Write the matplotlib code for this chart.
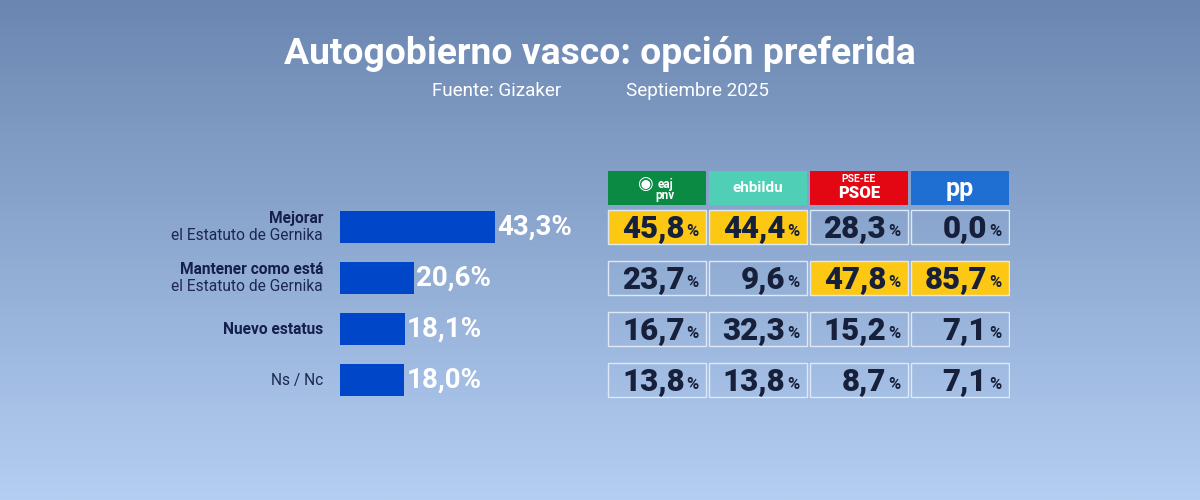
import matplotlib.pyplot as plt
import numpy as np
from matplotlib.patches import Rectangle

plt.rcParams['font.family'] = ['Roboto', 'DejaVu Sans']

# data
opciones_bold = ['Mejorar', 'Mantener como está', 'Nuevo estatus', '']
opciones_sub = ['el Estatuto de Gernika', 'el Estatuto de Gernika', '', 'Ns / Nc']
total = [43.3, 20.6, 18.1, 18.0]

partidos = ['PNV', 'EH Bildu', 'PSE-EE', 'PP']
partido_colores = ['#0b8a43', '#4fd0b6', '#e30613', '#1f6fd2']
pnv = [45.8, 23.7, 16.7, 13.8]
bildu = [44.4, 9.6, 32.3, 13.8]
psoe = [28.3, 47.8, 15.2, 8.7]
pp = [0.0, 85.7, 7.1, 7.1]

W, H = 1200, 500
fig = plt.figure(figsize=(12, 5), dpi=100)

# background gradient
bg = fig.add_axes([0, 0, 1, 1])
grad = np.linspace(0, 1, 256).reshape(-1, 1)
top = np.array([0x6b, 0x87, 0xb1]) / 255
bot = np.array([0xb4, 0xce, 0xf3]) / 255
img = top + (bot - top) * grad[..., None]
bg.imshow(img, aspect='auto', extent=[0, 1, 0, 1])
bg.axis('off')

def px_axes(x0, y0, x1, y1):
    return fig.add_axes([x0 / W, 1 - y1 / H, (x1 - x0) / W, (y1 - y0) / H])

# titles
canvas = px_axes(0, 0, W, H)
canvas.set_xlim(0, W)
canvas.set_ylim(H, 0)
canvas.axis('off')
canvas.text(600, 54, 'Autogobierno vasco: opción preferida', ha='center', va='center',
            fontsize=26.8, fontweight='bold', color='white')
canvas.text(497, 91, 'Fuente: Gizaker', ha='center', va='center', fontsize=13.6, color='white')
canvas.text(697, 91, 'Septiembre 2025', ha='center', va='center', fontsize=13.6, color='white')

# bars
scale = 3.58  # px per percent
ax = px_axes(340, 201.5, 600, 405.5)
ax.set_xlim(0, 260 / scale)
ax.set_ylim(3.5, -0.5)
ax.axis('off')
ypos = np.arange(len(total))
ax.barh(ypos, total, height=0.63, color='#0046c8')
for i, v in enumerate(total):
    ax.text(v + 0.5, i, f'{v:.1f}%'.replace('.', ','), va='center', ha='left',
            fontsize=20, fontweight='bold', color='white', clip_on=False)
    lx = -17 / scale
    b, s = opciones_bold[i], opciones_sub[i]
    if b and s:
        ax.text(lx, i - 0.17, b, ha='right', va='center', fontsize=11.2,
                fontweight='bold', color='#141f4a', clip_on=False)
        ax.text(lx, i + 0.17, s, ha='right', va='center', fontsize=11.2,
                color='#1c2850', clip_on=False)
    elif b:
        ax.text(lx, i, b, ha='right', va='center', fontsize=11.2,
                fontweight='bold', color='#141f4a', clip_on=False)
    else:
        ax.text(lx, i, s, ha='right', va='center', fontsize=11.2,
                color='#1c2850', clip_on=False)

# party table
cols = [pnv, bildu, psoe, pp]
tab = px_axes(607, 150, 1010, 405.5)
tab.set_xlim(0, 4)
tab.set_ylim(3.5, -0.5 - 51.5 / 51)
tab.axis('off')
cw, ch = 0.975, 0.66
for j, (vals, col) in enumerate(zip(cols, partido_colores)):
    x0 = j + (1 - cw) / 2
    hy = -0.765
    tab.add_patch(Rectangle((x0, hy - 0.335), cw, 0.67, facecolor=col, edgecolor='none'))
    cx = j + 0.5
    if j == 0:
        tab.text(cx + 0.08, hy + 0.04, 'eaj\npnv', ha='center', va='center', fontsize=8.5,
                 fontweight='bold', color='white', linespacing=0.8)
        tab.text(cx - 0.12, hy - 0.08, '◉', ha='center', va='center', fontsize=13, color='white')
    elif j == 1:
        tab.text(cx, hy, 'ehbildu', ha='center', va='center', fontsize=11,
                 fontweight='bold', color='white')
    elif j == 2:
        tab.text(cx, hy - 0.17, 'PSE-EE', ha='center', va='center', fontsize=7.5,
                 fontweight='bold', color='white')
        tab.text(cx, hy + 0.1, 'PSOE', ha='center', va='center', fontsize=12,
                 fontweight='black', color='white')
    else:
        tab.text(cx, hy + 0.02, 'pp', ha='center', va='center', fontsize=18,
                 fontweight='bold', color='white')
    best = int(np.argmax(vals))
    for i, v in enumerate(vals):
        fc = '#fcc814' if i == best else 'none'
        tab.add_patch(Rectangle((x0, i - ch / 2), cw, ch, facecolor=fc,
                                edgecolor='#dfe9f6', linewidth=1.0))
        tab.text(j + 1 - 0.23, i + 0.02, f'{v:.1f}'.replace('.', ','), ha='right', va='center',
                 fontsize=22.5, fontweight='black', color='#17203a')
        tab.text(j + 1 - 0.21, i + 0.08, '%', ha='left', va='center',
                 fontsize=12, fontweight='bold', color='#17203a')

fig.savefig('out.png', dpi=100)
